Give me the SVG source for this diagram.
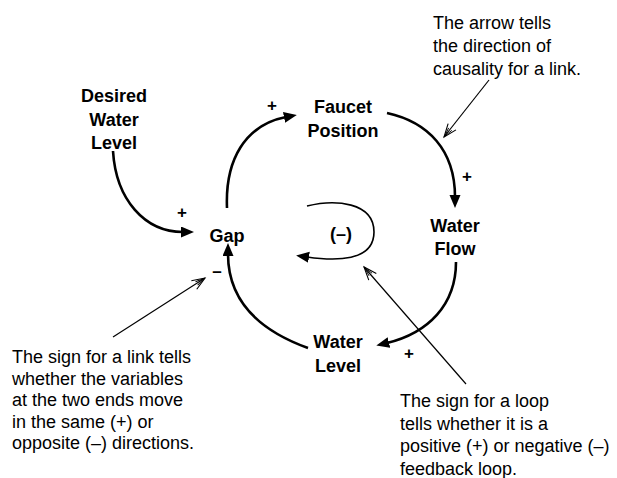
<svg xmlns="http://www.w3.org/2000/svg" width="617" height="478" viewBox="0 0 617 478">
<style>
.node{font-family:"Liberation Sans",Arial,sans-serif;font-size:18px;font-weight:bold;fill:#000;text-anchor:middle}
.note{font-family:"Liberation Sans",Arial,sans-serif;font-size:18px;fill:#000}
.sign{font-family:"Liberation Sans",Arial,sans-serif;font-size:17px;font-weight:bold;fill:#000;text-anchor:middle}
.link{fill:none;stroke:#000;stroke-width:2.6}
.loop{fill:none;stroke:#000;stroke-width:1.6}
.call{fill:none;stroke:#000;stroke-width:1.2}
</style>
<defs>
<marker id="ah" markerUnits="userSpaceOnUse" markerWidth="16" markerHeight="14" refX="2" refY="5.5" orient="auto" viewBox="0 0 16 14">
<path d="M0,0 L13,5.5 L0,11 Z" fill="#000"/>
</marker>
<marker id="oh" markerUnits="userSpaceOnUse" markerWidth="16" markerHeight="14" refX="13" refY="5" orient="auto" viewBox="0 0 16 14" overflow="visible">
<path d="M0,0 L13,5 L0,10" fill="none" stroke="#000" stroke-width="1.1"/>
<path d="M3,3 L12,5 L3,7" fill="none" stroke="#000" stroke-width="0.9"/>
</marker>
</defs>
<rect width="617" height="478" fill="#fff"/>
<g id="connectors">
<path class="link" d="M113,151 C116,200 145,232 183,232" marker-end="url(#ah)"/>
<path class="link" d="M227,208 C225,160 245,125 286,117" marker-end="url(#ah)"/>
<path class="link" d="M387,113 C428,122 455,150 455,197" marker-end="url(#ah)"/>
<path class="link" d="M456,262 C456,305 428,333 387,343" marker-end="url(#ah)"/>
<path class="link" d="M308,348 C258,330 228,300 228,254" marker-end="url(#ah)"/>
<path class="loop" d="M307,206 C335,199 374,202 374,232 C374,262 335,261 307,257" marker-end="url(#ah)"/>
<path class="call" d="M489,80 L444,137" marker-end="url(#oh)"/>
<path class="call" d="M113,337 L205,278" marker-end="url(#oh)"/>
<path class="call" d="M466,384 L364,267" marker-end="url(#oh)"/>
<text class="sign" x="182" y="218">+</text>
<text class="sign" x="272" y="111">+</text>
<text class="sign" x="467" y="182">+</text>
<text class="sign" x="409" y="359">+</text>
<text class="sign" x="217" y="277">–</text>
</g>
<g id="desired">
<text class="node" x="114" y="102">Desired</text>
<text class="node" x="114" y="126">Water</text>
<text class="node" x="114" y="149">Level</text>
</g>
<g id="faucet">
<text class="node" x="343" y="113">Faucet</text>
<text class="node" x="343" y="137">Position</text>
</g>
<g id="flow">
<text class="node" x="455" y="232">Water</text>
<text class="node" x="455" y="255">Flow</text>
</g>
<g id="level">
<text class="node" x="338" y="348">Water</text>
<text class="node" x="338" y="372">Level</text>
</g>
<g id="gap">
<text class="node" x="227" y="242">Gap</text>
</g>
<g id="loopsign">
<text class="node" x="341" y="240">(–)</text>
</g>
<g id="note-arrow">
<text class="note" x="433" y="29">The arrow tells</text>
<text class="note" x="433" y="52">the direction of</text>
<text class="note" x="433" y="75">causality for a link.</text>
</g>
<g id="note-link">
<text class="note" x="12" y="363">The sign for a link tells</text>
<text class="note" x="12" y="385">whether the variables</text>
<text class="note" x="12" y="406">at the two ends move</text>
<text class="note" x="12" y="428">in the same (+) or</text>
<text class="note" x="12" y="449">opposite (–) directions.</text>
</g>
<g id="note-loop">
<text class="note" x="400" y="407">The sign for a loop</text>
<text class="note" x="400" y="430">tells whether it is a</text>
<text class="note" x="400" y="452">positive (+) or negative (–)</text>
<text class="note" x="400" y="475">feedback loop.</text>
</g>
</svg>
